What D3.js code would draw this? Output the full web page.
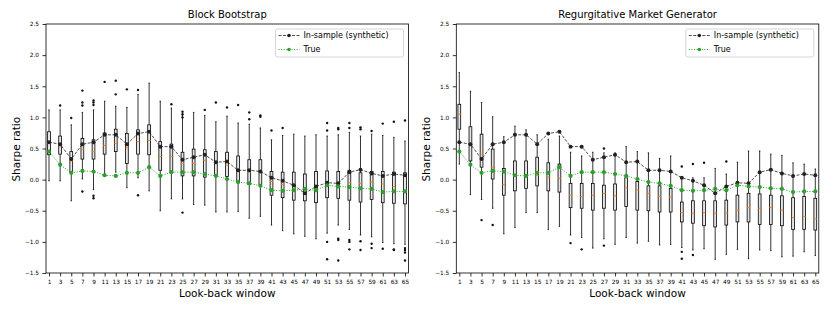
<!DOCTYPE html>
<html>
<head>
<meta charset="utf-8">
<script src="https://cdn.jsdelivr.net/npm/d3@7"></script>
<style>
  body { margin: 0; background: #fff; }
  svg { font-family: 'DejaVu Sans', sans-serif; }
</style>
</head>
<body>
<div id="chart"></div>
<script>
// look-back windows (x categories)
const windows = [1, 3, 5, 7, 9, 11, 13, 15, 17, 19, 21, 23, 25, 27, 29, 31, 33,
                 35, 37, 39, 41, 43, 45, 47, 49, 51, 53, 55, 57, 59, 61, 63, 65];

const yTicks = [-1.5, -1.0, -0.5, 0.0, 0.5, 1.0, 1.5, 2.0, 2.5];

// lines shared by both panels
const inSample = [0.60, 0.57, 0.33, 0.57, 0.60, 0.72, 0.72, 0.57, 0.74, 0.77, 0.53, 0.53, 0.32, 0.36, 0.40, 0.28, 0.29,
                  0.15, 0.15, 0.13, 0.03, -0.02, -0.09, -0.22, -0.11, -0.05, -0.06, 0.12, 0.16, 0.10, 0.06, 0.09, 0.07];
const trueSharpe = [0.45, 0.24, 0.11, 0.14, 0.13, 0.07, 0.06, 0.11, 0.11, 0.20, 0.06, 0.12, 0.12, 0.12, 0.09, 0.06, 0.01,
                    -0.04, -0.06, -0.10, -0.17, -0.18, -0.17, -0.15, -0.17, -0.09, -0.11, -0.12, -0.14, -0.15, -0.20, -0.19, -0.19];

// Block Bootstrap boxes
const bbHigh = [1.12, 1.12, 0.88, 1.08, 1.12, 1.26, 1.18, 1.16, 1.37, 1.55, 1.26, 1.15, 1.04, 1.08, 1.03, 0.93, 1.02,
                0.91, 0.89, 0.83, 0.64, 0.71, 0.73, 0.70, 0.72, 0.70, 0.72, 0.76, 0.70, 0.73, 0.71, 0.68, 0.62];
const bbQ3 = [0.77, 0.70, 0.45, 0.66, 0.64, 0.75, 0.81, 0.74, 0.80, 0.88, 0.61, 0.57, 0.44, 0.49, 0.48, 0.45, 0.44,
              0.38, 0.32, 0.32, 0.13, 0.12, 0.12, 0.09, 0.13, 0.14, 0.13, 0.15, 0.11, 0.13, 0.13, 0.12, 0.11];
const bbMed = [0.58, 0.54, 0.30, 0.49, 0.45, 0.55, 0.58, 0.51, 0.61, 0.63, 0.37, 0.37, 0.26, 0.26, 0.31, 0.26, 0.23,
               0.17, 0.12, 0.12, -0.03, -0.08, -0.11, -0.15, -0.14, -0.09, -0.10, -0.05, -0.06, -0.04, -0.07, -0.11, -0.17];
const bbQ1 = [0.40, 0.41, 0.12, 0.33, 0.33, 0.41, 0.45, 0.26, 0.41, 0.40, 0.15, 0.12, 0.06, 0.06, 0.04, 0.07, 0.05,
              -0.05, -0.08, -0.08, -0.25, -0.29, -0.33, -0.34, -0.37, -0.29, -0.30, -0.33, -0.36, -0.32, -0.37, -0.38, -0.39];
const bbLow = [-0.02, -0.02, -0.34, 0.01, -0.16, 0.10, 0.12, -0.13, 0.03, -0.18, -0.50, -0.31, -0.31, -0.40, -0.41, -0.52, -0.52,
               -0.51, -0.62, -0.59, -0.73, -0.82, -0.87, -0.91, -0.95, -0.86, -0.73, -0.80, -0.89, -0.92, -1.01, -1.03, -1.04];
const bbOutliers = [[], [1.19], [0.99], [1.43, 1.24, 1.19, -0.19], [1.27, 1.24, 1.20, -0.26, -0.30], [1.57], [1.59, 1.37],
                    [1.45], [1.44, -0.25], [], [], [1.21], [1.09, 1.05, 1.00, -0.53], [], [1.12], [1.24], [1.16], [1.20],
                    [1.08, 0.97], [1.03, 1.01], [0.79], [0.83], [], [], [], [0.91, 0.79, -1.00, -1.28],
                    [0.83, 0.81, -0.95, -0.97, -1.30], [0.91, 0.83, -0.97, -1.00, -1.12], [0.84, 0.81, -0.99, -1.13],
                    [0.78, -1.03, -1.10], [0.90, -1.11], [0.93, -1.12, -1.13], [0.95, -1.10, -1.13, -1.17, -1.30]];

// Regurgitative Market Generator boxes
const rmHigh = [1.72, 1.42, 1.24, 1.01, 0.69, 0.86, 0.80, 0.72, 0.65, 0.70, 0.44, 0.38, 0.44, 0.43, 0.43, 0.53, 0.45,
                0.43, 0.34, 0.38, 0.05, 0.03, 0.03, 0.18, 0.09, 0.28, 0.46, 0.46, 0.41, 0.39, 0.27, 0.25, 0.17];
const rmQ3 = [1.21, 0.85, 0.73, 0.49, 0.18, 0.30, 0.30, 0.36, 0.27, 0.25, -0.06, -0.06, -0.06, -0.09, -0.07, 0.03, -0.03,
              -0.10, -0.10, -0.14, -0.36, -0.34, -0.34, -0.34, -0.33, -0.25, -0.22, -0.23, -0.25, -0.26, -0.29, -0.27, -0.30];
const rmMed = [1.05, 0.59, 0.41, 0.20, -0.08, 0.08, 0.07, 0.07, 0.04, 0.02, -0.25, -0.27, -0.25, -0.22, -0.26, -0.13, -0.17,
               -0.22, -0.27, -0.28, -0.53, -0.54, -0.53, -0.54, -0.54, -0.49, -0.45, -0.46, -0.45, -0.49, -0.61, -0.59, -0.63];
const rmQ1 = [0.81, 0.30, 0.20, 0.01, -0.25, -0.18, -0.14, -0.10, -0.18, -0.20, -0.45, -0.46, -0.49, -0.46, -0.49, -0.43, -0.49,
              -0.50, -0.52, -0.52, -0.68, -0.70, -0.74, -0.76, -0.73, -0.68, -0.68, -0.72, -0.72, -0.74, -0.80, -0.80, -0.81];
const rmLow = [0.25, -0.24, -0.32, -0.46, -0.87, -0.77, -0.53, -0.53, -0.80, -0.75, -0.89, -0.93, -1.10, -0.95, -1.04, -0.93, -1.02,
               -0.99, -1.05, -1.04, -1.09, -1.13, -1.11, -1.28, -1.20, -1.12, -1.27, -1.13, -1.14, -1.24, -1.23, -1.16, -1.22];
const rmOutliers = [[], [], [-0.65], [-0.73], [], [], [], [], [], [], [-1.02], [-1.12], [], [0.50, -1.06], [], [], [],
                    [], [], [], [0.21, -1.16, -1.27], [0.25, -1.21], [0.27], [], [0.29], [], [], [], [], [], [], [], []];

const width = 830,
      height = 311,
      plotTop = 24,
      plotBottom = 273;

const panels = [
  { title: 'Block Bootstrap', left: 46, right: 408.5,
    stats: { low: bbLow, q1: bbQ1, med: bbMed, q3: bbQ3, high: bbHigh, out: bbOutliers } },
  { title: 'Regurgitative Market Generator', left: 456.3, right: 818.8,
    stats: { low: rmLow, q1: rmQ1, med: rmMed, q3: rmQ3, high: rmHigh, out: rmOutliers } }
];

const svg = d3.select('#chart')
              .append('svg')
              .attr('width', width)
              .attr('height', height);

const yScale = d3.scaleLinear()
                 .domain([-1.5, 2.5])
                 .range([plotBottom, plotTop]);

const inColor = '#222',
      trueColor = '#2ca02c';

panels.forEach(function(p) {
  const xScale = d3.scaleLinear()
                   .domain([0.46, 65.63])
                   .range([p.left, p.right]);

  const g = svg.append('g');

  // axes
  const xAxis = d3.axisBottom(xScale)
                  .tickValues(windows)
                  .tickFormat(d3.format('d'))
                  .tickSize(3.5)
                  .tickSizeOuter(0)
                  .tickPadding(3);

  const yAxis = d3.axisLeft(yScale)
                  .tickValues(yTicks)
                  .tickFormat(d3.format('.1f'))
                  .tickSize(3.5)
                  .tickSizeOuter(0)
                  .tickPadding(3.5);

  g.append('g')
   .attr('transform', 'translate(0,' + plotBottom + ')')
   .call(xAxis)
   .call(a => a.select('.domain').remove());

  g.append('g')
   .attr('transform', 'translate(' + p.left + ',0)')
   .call(yAxis)
   .call(a => a.select('.domain').remove());

  g.selectAll('.tick text')
   .attr('font-size', 5.8)
   .attr('font-family', 'DejaVu Sans')
   .attr('fill', '#000');
  g.selectAll('.tick line')
   .attr('stroke', '#000')
   .attr('stroke-width', 0.8);

  const boxes = windows.map(function(w, i) {
    return { w: w, low: p.stats.low[i], q1: p.stats.q1[i], med: p.stats.med[i],
             q3: p.stats.q3[i], high: p.stats.high[i], out: p.stats.out[i] };
  });

  const half = 0.25, capHalf = 0.125;

  // whiskers
  g.selectAll('.wlo')
   .data(boxes)
   .enter().append('line')
   .attr('x1', d => xScale(d.w)).attr('x2', d => xScale(d.w))
   .attr('y1', d => yScale(d.q1)).attr('y2', d => yScale(d.low))
   .attr('stroke', '#000').attr('stroke-width', 0.8);

  g.selectAll('.whi')
   .data(boxes)
   .enter().append('line')
   .attr('x1', d => xScale(d.w)).attr('x2', d => xScale(d.w))
   .attr('y1', d => yScale(d.q3)).attr('y2', d => yScale(d.high))
   .attr('stroke', '#000').attr('stroke-width', 0.8);

  // caps
  ['low', 'high'].forEach(function(k) {
    g.selectAll('.cap-' + k)
     .data(boxes)
     .enter().append('line')
     .attr('x1', d => xScale(d.w - capHalf)).attr('x2', d => xScale(d.w + capHalf))
     .attr('y1', d => yScale(d[k])).attr('y2', d => yScale(d[k]))
     .attr('stroke', '#000').attr('stroke-width', 0.8);
  });

  // boxes
  g.selectAll('.box')
   .data(boxes)
   .enter().append('rect')
   .attr('x', d => xScale(d.w - half))
   .attr('width', xScale(1 + half) - xScale(1 - half))
   .attr('y', d => yScale(d.q3))
   .attr('height', d => yScale(d.q1) - yScale(d.q3))
   .attr('fill', '#e6e6e6')
   .attr('stroke', '#000')
   .attr('stroke-width', 0.8);

  // medians
  g.selectAll('.med')
   .data(boxes)
   .enter().append('line')
   .attr('x1', d => xScale(d.w - half)).attr('x2', d => xScale(d.w + half))
   .attr('y1', d => yScale(d.med)).attr('y2', d => yScale(d.med))
   .attr('stroke', '#ff7f0e').attr('stroke-width', 1);

  // fliers
  const fliers = [];
  boxes.forEach(function(d) {
    d.out.forEach(function(v) { fliers.push({ w: d.w, v: v }); });
  });

  g.selectAll('.flier')
   .data(fliers)
   .enter().append('circle')
   .attr('cx', d => xScale(d.w))
   .attr('cy', d => yScale(d.v))
   .attr('r', 1.2)
   .attr('fill', '#111');

  // in-sample line
  const line = d3.line()
                 .x((d, i) => xScale(windows[i]))
                 .y(d => yScale(d));

  g.append('path')
   .datum(inSample)
   .attr('d', line)
   .attr('fill', 'none')
   .attr('stroke', inColor)
   .attr('stroke-width', 0.8)
   .attr('stroke-dasharray', '3,1.5');

  g.selectAll('.ins')
   .data(inSample)
   .enter().append('circle')
   .attr('cx', (d, i) => xScale(windows[i]))
   .attr('cy', d => yScale(d))
   .attr('r', 2)
   .attr('fill', inColor);

  g.append('path')
   .datum(trueSharpe)
   .attr('d', line)
   .attr('fill', 'none')
   .attr('stroke', trueColor)
   .attr('stroke-width', 1)
   .attr('stroke-dasharray', '1,1.6');

  g.selectAll('.tru')
   .data(trueSharpe)
   .enter().append('circle')
   .attr('cx', (d, i) => xScale(windows[i]))
   .attr('cy', d => yScale(d))
   .attr('r', 2.1)
   .attr('fill', trueColor);

  // frame
  g.append('rect')
   .attr('x', p.left)
   .attr('y', plotTop)
   .attr('width', p.right - p.left)
   .attr('height', plotBottom - plotTop)
   .attr('fill', 'none')
   .attr('stroke', '#000')
   .attr('stroke-width', 0.8);

  // titles and labels
  const cx = (p.left + p.right) / 2;

  g.append('text')
   .attr('x', cx)
   .attr('y', 18)
   .attr('text-anchor', 'middle')
   .attr('font-size', 10)
   .text(p.title);

  g.append('text')
   .attr('x', cx)
   .attr('y', 297)
   .attr('text-anchor', 'middle')
   .attr('font-size', 10.5)
   .text('Look-back window');

  g.append('text')
   .attr('transform', 'translate(' + (p.left - 26) + ',' + ((plotTop + plotBottom) / 2 + 0.7) + ') rotate(-90)')
   .attr('text-anchor', 'middle')
   .attr('font-size', 10.5)
   .text('Sharpe ratio');

  // legend
  const lw = 128, lx = p.right - 5 - lw, ly = 29;
  const legend = g.append('g');

  legend.append('rect')
        .attr('x', lx)
        .attr('y', ly)
        .attr('width', lw)
        .attr('height', 28)
        .attr('rx', 2)
        .attr('fill', '#fff')
        .attr('fill-opacity', 0.8)
        .attr('stroke', '#ccc')
        .attr('stroke-width', 0.8);

  const entries = [
    { label: 'In-sample (synthetic)', color: inColor, dash: '3,1.5', r: 1.8, w: 0.8 },
    { label: 'True', color: trueColor, dash: '1,1.6', r: 1.8, w: 1 }
  ];

  entries.forEach(function(e, i) {
    const yy = ly + 6.5 + i * 14;
    legend.append('line')
          .attr('x1', lx + 3).attr('x2', lx + 24)
          .attr('y1', yy).attr('y2', yy)
          .attr('stroke', e.color)
          .attr('stroke-width', e.w)
          .attr('stroke-dasharray', e.dash);
    legend.append('circle')
          .attr('cx', lx + 13.5)
          .attr('cy', yy)
          .attr('r', e.r)
          .attr('fill', e.color);
    legend.append('text')
          .attr('x', lx + 28)
          .attr('y', yy + 2.9)
          .attr('font-size', 8)
          .text(e.label);
  });
});
</script>
</body>
</html>
